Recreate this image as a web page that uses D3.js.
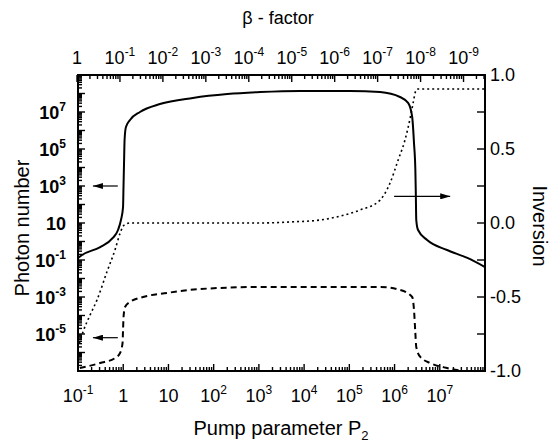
<!DOCTYPE html>
<html>
<head>
<meta charset="utf-8">
<script src="https://cdn.jsdelivr.net/npm/d3@7.9.0/dist/d3.min.js"></script>
<style>
  body { margin: 0; background: #fff; }
  svg { display: block; font-family: "Liberation Sans", Arial, Helvetica, sans-serif; }
</style>
</head>
<body>
<svg id="chart" width="557" height="445"></svg>
<script>
// Curve data (log10 values)
// solid: photon number vs pump parameter
const solidLogP = [-1, -0.91, -0.51, -0.23, -0.115, -0.05, -0.004, 0.007, 0.018, 0.03, 0.06, 0.15, 0.37, 0.81, 1.54, 2.30, 3.03, 3.91, 5.02, 5.68, 6.12, 6.30, 6.39, 6.43, 6.46, 6.47, 6.48, 6.52, 6.72, 7.16, 7.61, 8.0];
const solidLogN = [-0.89, -0.73, -0.30, 0.19, 0.62, 1.16, 1.86, 3.05, 4.24, 5.49, 6.19, 6.57, 7.0, 7.43, 7.76, 7.97, 8.08, 8.14, 8.14, 8.08, 7.81, 7.49, 6.73, 5.32, 3.86, 2.62, 1.16, 0.62, 0.08, -0.46, -0.89, -1.38];

// dashed: photon number of the second mode
const dashLogP = [-0.96, -0.51, -0.18, -0.07, -0.015, -0.004, 0.007, 0.04, 0.15, 0.44, 0.97, 1.70, 3.03, 5.02, 5.68, 6.12, 6.39, 6.43, 6.46, 6.48, 6.57, 6.79, 7.16, 7.45];
const dashLogN = [-6.84, -6.57, -6.30, -6.03, -5.49, -4.78, -4.08, -3.54, -3.27, -3.0, -2.78, -2.57, -2.46, -2.46, -2.46, -2.62, -3.0, -3.70, -4.95, -5.70, -6.24, -6.57, -6.84, -6.97];

// dotted: inversion (right axis)
const dotLogP = [-1, -0.89, -0.73, -0.58, -0.36, -0.18, -0.07, 0.02, 0.15, 1.70, 3.03, 3.69, 4.35, 4.80, 5.24, 5.68, 5.90, 6.08, 6.23, 6.35, 6.41, 6.46, 6.50, 8.0];
const dotInv  = [-0.845, -0.736, -0.62, -0.52, -0.33, -0.18, -0.07, -0.014, 0, 0, 0, 0.007, 0.02, 0.047, 0.088, 0.155, 0.27, 0.426, 0.56, 0.716, 0.81, 0.885, 0.905, 0.905];

// axis ticks
const pumpTickExp = [-1, 0, 1, 2, 3, 4, 5, 6, 7];
const betaTickExp = [0, -1, -2, -3, -4, -5, -6, -7, -8, -9];
const photonLabelExp = [7, 5, 3, 1, -1, -3, -5];
const inversionLabels = [1.0, 0.5, 0.0, -0.5, -1.0];
const inversionMinor = [0.75, 0.25, -0.25, -0.75];

// arrows: [logP start, logP end, value] (head at end)
const arrowsLeft = [[-0.12, -0.67, 3], [-0.12, -0.67, -5.2]];
const arrowsRight = [[5.99, 7.23, 0.18]];

const svg = d3.select('#chart');
const L = 78, R = 485, T = 75, B = 371;

const x = d3.scaleLog().domain([1e-1, 1e8]).range([L, R]);
const xb = d3.scaleLog().domain([1, Math.pow(10, -9.5)]).range([77, R]);
const yL = d3.scaleLog().domain([1e-7, 1e9]).range([B, T]);
const yR = d3.scaleLinear().domain([-1, 1]).range([B, T]);

svg.append('rect').attr('width', 557).attr('height', 445).attr('fill', '#fff');

// helper for "10^n" labels
function powLabel(sel, e, size, supSize) {
  if (e === 0) { sel.append('tspan').text('1'); return; }
  sel.append('tspan').text('10');
  if (e !== 1) {
    sel.append('tspan').attr('dy', -size * 0.42).attr('font-size', supSize).text(String(e));
  }
}

// ---- ticks ----
const tickG = svg.append('g').attr('stroke', '#000').attr('stroke-width', 1.4);

// bottom axis ticks (inward)
for (let e = -1; e < 8; e++) {
  tickG.append('line').attr('x1', x(Math.pow(10, e))).attr('x2', x(Math.pow(10, e)))
    .attr('y1', B).attr('y2', B - 7);
  for (let m = 2; m < 10; m++) {
    const v = m * Math.pow(10, e);
    tickG.append('line').attr('x1', x(v)).attr('x2', x(v)).attr('y1', B).attr('y2', B - 4);
  }
}
// top axis ticks
for (let e = 0; e > -10; e--) {
  const p = Math.pow(10, e);
  tickG.append('line').attr('x1', xb(p)).attr('x2', xb(p)).attr('y1', T).attr('y2', T + 7);
  for (let m = 2; m < 10; m++) {
    const v = p / m;
    if (xb(v) > R) continue;
    tickG.append('line').attr('x1', xb(v)).attr('x2', xb(v)).attr('y1', T).attr('y2', T + 4);
  }
}
// left axis ticks
for (let e = -7; e < 9; e++) {
  const p = Math.pow(10, e);
  tickG.append('line').attr('x1', L).attr('x2', L + 7).attr('y1', yL(p)).attr('y2', yL(p));
  for (let m = 2; m < 10; m++) {
    tickG.append('line').attr('x1', L).attr('x2', L + 4)
      .attr('y1', yL(m * p)).attr('y2', yL(m * p));
  }
}
// right axis ticks
inversionLabels.concat(inversionMinor).forEach(v => {
  tickG.append('line').attr('x1', R).attr('x2', R - 8).attr('y1', yR(v)).attr('y2', yR(v));
});

// frame
svg.append('rect').attr('x', L).attr('y', T).attr('width', R - L).attr('height', B - T)
  .attr('fill', 'none').attr('stroke', '#000').attr('stroke-width', 2);

// ---- curves ----
const lineL = d3.line().x(d => x(Math.pow(10, d[0]))).y(d => yL(Math.pow(10, d[1])))
  .curve(d3.curveMonotoneX);
const lineR = d3.line().x(d => x(Math.pow(10, d[0]))).y(d => yR(d[1]))
  .curve(d3.curveMonotoneX);

svg.append('path').datum(d3.zip(solidLogP, solidLogN)).attr('d', lineL)
  .attr('fill', 'none').attr('stroke', '#000').attr('stroke-width', 2);
svg.append('path').datum(d3.zip(dashLogP, dashLogN)).attr('d', lineL)
  .attr('fill', 'none').attr('stroke', '#000').attr('stroke-width', 2)
  .attr('stroke-dasharray', '6,4');
svg.append('path').datum(d3.zip(dotLogP, dotInv)).attr('d', lineR)
  .attr('fill', 'none').attr('stroke', '#000').attr('stroke-width', 1.6)
  .attr('stroke-dasharray', '2,3');

// ---- arrows ----
svg.append('defs').append('marker').attr('id', 'ah')
  .attr('viewBox', '0 0 10 6').attr('refX', 10).attr('refY', 3)
  .attr('markerWidth', 10).attr('markerHeight', 6).attr('markerUnits', 'userSpaceOnUse')
  .attr('orient', 'auto')
  .append('path').attr('d', 'M0,0L10,3L0,6Z').attr('fill', '#000');

arrowsLeft.forEach(a => {
  svg.append('line').attr('x1', x(Math.pow(10, a[0]))).attr('x2', x(Math.pow(10, a[1])))
    .attr('y1', yL(Math.pow(10, a[2]))).attr('y2', yL(Math.pow(10, a[2])))
    .attr('stroke', '#000').attr('stroke-width', 1.2).attr('marker-end', 'url(#ah)');
});
arrowsRight.forEach(a => {
  svg.append('line').attr('x1', x(Math.pow(10, a[0]))).attr('x2', x(Math.pow(10, a[1])))
    .attr('y1', yR(a[2])).attr('y2', yR(a[2]))
    .attr('stroke', '#000').attr('stroke-width', 1.2).attr('marker-end', 'url(#ah)');
});

// ---- labels ----
// bottom
pumpTickExp.forEach(e => {
  const t = svg.append('text').attr('x', x(Math.pow(10, e))).attr('y', 402)
    .attr('text-anchor', 'middle').attr('font-size', 18);
  powLabel(t, e, 18, 12);
});
// top
betaTickExp.forEach(e => {
  const t = svg.append('text').attr('x', xb(Math.pow(10, e))).attr('y', 64)
    .attr('text-anchor', 'middle').attr('font-size', 18);
  powLabel(t, e, 18, 12);
});
// left
photonLabelExp.forEach(e => {
  const t = svg.append('text').attr('x', 66).attr('y', yL(Math.pow(10, e)) + 7)
    .attr('text-anchor', 'end').attr('font-size', 18).attr('font-weight', 'bold');
  powLabel(t, e, 18, 12);
});
// right
inversionLabels.forEach(v => {
  svg.append('text').attr('x', 490).attr('y', yR(v) + 6)
    .attr('font-size', 18).text(v.toFixed(1));
});

// titles
svg.append('text').attr('x', 278).attr('y', 24).attr('text-anchor', 'middle')
  .attr('font-size', 18).text('β - factor');
const xt = svg.append('text').attr('x', 281).attr('y', 435).attr('text-anchor', 'middle')
  .attr('font-size', 20);
xt.append('tspan').text('Pump parameter P');
xt.append('tspan').attr('dy', 5).attr('font-size', 13).text('2');
svg.append('text').attr('transform', 'translate(29,228) rotate(-90)')
  .attr('text-anchor', 'middle').attr('font-size', 20).text('Photon number');
svg.append('text').attr('transform', 'translate(533,226) rotate(90)')
  .attr('text-anchor', 'middle').attr('font-size', 20).text('Inversion');
</script>
</body>
</html>
